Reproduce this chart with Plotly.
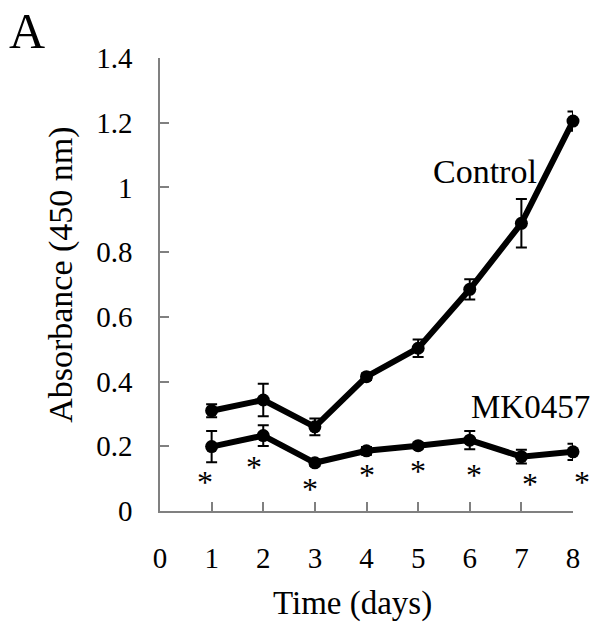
import plotly.graph_objects as go

days = [1, 2, 3, 4, 5, 6, 7, 8]
control = [0.31, 0.343, 0.26, 0.415, 0.503, 0.685, 0.889, 1.205]
control_err = [0.02, 0.05, 0.026, 0.01, 0.027, 0.031, 0.075, 0.03]
mk0457 = [0.199, 0.233, 0.149, 0.186, 0.202, 0.219, 0.168, 0.183]
mk0457_err = [0.048, 0.032, 0.01, 0.012, 0.01, 0.028, 0.021, 0.025]
star_x = [0.88, 1.83, 2.91, 4.0, 5.0, 6.08, 7.17, 8.17]
star_y = [0.096, 0.142, 0.075, 0.118, 0.129, 0.118, 0.09, 0.096]
x_ticks = [0, 1, 2, 3, 4, 5, 6, 7, 8]
y_ticks = [0, 0.2, 0.4, 0.6, 0.8, 1.0, 1.2, 1.4]
y_tick_text = ["0", "0.2", "0.4", "0.6", "0.8", "1", "1.2", "1.4"]

X_RANGE = [0, 8]
Y_RANGE = [0, 1.4]
FONT = "Liberation Serif"

fig = go.Figure()
for vals, errs in [(control, control_err), (mk0457, mk0457_err)]:
    fig.add_trace(go.Scatter(
        x=days, y=vals, mode="lines+markers",
        line=dict(color="black", width=6),
        marker=dict(color="black", size=13),
        error_y=dict(type="data", array=errs, visible=True,
                     color="black", thickness=2, width=5.5),
        showlegend=False, cliponaxis=False,
    ))

# asterisks: x in axis-domain fraction so marks past the last tick still show
annotations = [
    dict(text="*", x=(sx - X_RANGE[0]) / (X_RANGE[1] - X_RANGE[0]), y=sy,
         xref="x domain", yref="y", xanchor="center", yanchor="middle",
         showarrow=False, yshift=-2,
         font=dict(family=FONT, size=32, color="black"))
    for sx, sy in zip(star_x, star_y)
]
annotations += [
    dict(text="Absorbance (450 nm)", xref="paper", yref="paper",
         x=-0.24, y=0.521, xanchor="center", yanchor="middle",
         textangle=-90, showarrow=False,
         font=dict(family=FONT, size=34)),
    dict(text="Time (days)", xref="paper", yref="paper",
         x=0.467, y=-0.205, xanchor="center", yanchor="middle",
         showarrow=False, font=dict(family=FONT, size=33)),
    dict(text="Control", x=6.3, y=1.048, xref="x", yref="y",
         showarrow=False, font=dict(family=FONT, size=34)),
    dict(text="MK0457", x=7.17, y=0.32, xref="x", yref="y",
         showarrow=False, font=dict(family=FONT, size=33)),
    dict(text="A", xref="paper", yref="paper", x=-0.322, y=1.126,
         xanchor="center", yanchor="top", showarrow=False,
         font=dict(family=FONT, size=50)),
]

fig.update_layout(
    width=591, height=628,
    margin=dict(l=160, r=18, t=58, b=117),
    paper_bgcolor="white", plot_bgcolor="white",
    font=dict(family=FONT, size=29, color="black"),
    xaxis=dict(range=X_RANGE, tickvals=x_ticks, ticks="inside", ticklen=9,
               tickcolor="#808080", tickwidth=1.5, showline=True,
               linecolor="#808080", linewidth=1.5, showgrid=False,
               zeroline=False, ticklabelstandoff=20,
               tickfont=dict(family=FONT, size=29)),
    yaxis=dict(range=Y_RANGE, tickvals=y_ticks, ticktext=y_tick_text,
               ticks="inside", ticklen=9, tickcolor="#808080", tickwidth=1.5,
               showline=True, linecolor="#808080", linewidth=1.5,
               showgrid=False, zeroline=False, ticklabelstandoff=20,
               tickfont=dict(family=FONT, size=29)),
    annotations=annotations,
)

fig.write_html("out.html")
